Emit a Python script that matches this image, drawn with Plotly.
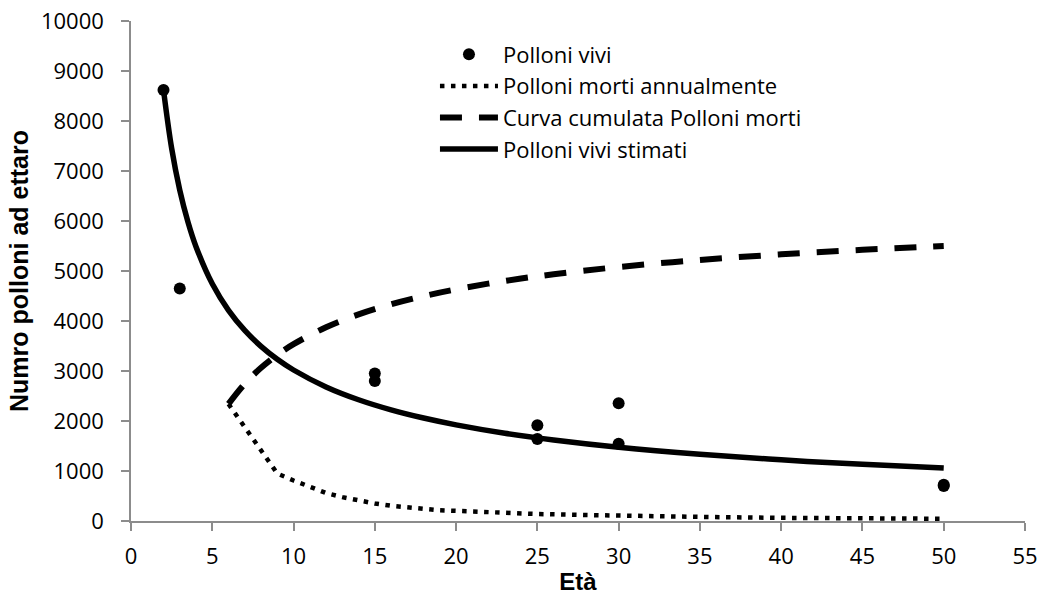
import plotly.graph_objects as go

# Observed live shoots (age, shoots per hectare)
live_age = [2, 3, 15, 15, 25, 25, 30, 30, 50, 50]
live_count = [8620, 4650, 2950, 2800, 1915, 1640, 2355, 1545, 725, 700]

# Annual dead shoots (dotted)
dead_age = [6, 7, 8, 9, 10, 11, 12, 13, 14, 15, 16, 17, 18, 19, 20, 22, 25, 28, 30, 35, 40, 45, 50]
dead_count = [2340, 1880, 1420, 950, 810, 690, 560, 478, 410, 350, 305, 285, 245, 215, 200,
              172, 140, 120, 105, 82, 63, 52, 45]

# Cumulative dead shoots (dashed)
cum_age = [6, 7, 8, 9, 10, 12, 14, 16, 18, 20, 23, 26, 30, 35, 40, 45, 50]
cum_count = [2343, 2745, 3063, 3322, 3536, 3875, 4131, 4333, 4497, 4633, 4801, 4935,
             5080, 5221, 5333, 5423, 5498]

# Estimated live shoots (solid)
est_age = [2, 2.5, 3, 3.5, 4, 5, 6, 7, 8, 9, 10, 12, 14, 16, 18, 20, 23, 26, 30, 35, 40, 45, 50]
est_count = [8620, 7454, 6618, 5986, 5487, 4744, 4213, 3811, 3493, 3234, 3020, 2681, 2425,
             2223, 2059, 1923, 1755, 1621, 1476, 1335, 1223, 1133, 1058]

x_ticks = list(range(0, 56, 5))
x_labels = [str(v) for v in x_ticks]
y_ticks = list(range(0, 10001, 1000))
y_labels = [str(v) for v in y_ticks]

fig = go.Figure()
fig.add_trace(go.Scatter(x=live_age, y=live_count, mode="markers", name="Polloni vivi",
                         marker=dict(color="black", size=12)))
fig.add_trace(go.Scatter(x=dead_age, y=dead_count, mode="lines", name="Polloni morti annualmente",
                         line=dict(color="black", width=4.5, dash="4.5px,6.5px")))
fig.add_trace(go.Scatter(x=cum_age, y=cum_count, mode="lines", name="Curva cumulata Polloni morti",
                         line=dict(color="black", width=6, dash="22px,17px", shape="spline")))
fig.add_trace(go.Scatter(x=est_age, y=est_count, mode="lines", name="Polloni vivi stimati",
                         line=dict(color="black", width=5.5, shape="spline")))

axis_common = dict(
    showgrid=False, zeroline=False, showline=True, linecolor="#8c8c8c", linewidth=1.5,
    ticks="outside", ticklen=8, tickcolor="#8c8c8c", tickwidth=1.5,
    tickfont=dict(family="Open Sans", size=22, color="black"),
    automargin=False,
)

fig.update_layout(
    width=1039, height=601, autosize=False,
    margin=dict(l=131, r=14, t=21, b=80, pad=0),
    paper_bgcolor="white", plot_bgcolor="white",
    xaxis=dict(range=[0, 55], tickvals=x_ticks, ticktext=x_labels, ticklabelstandoff=7,
               title=dict(text="Età", standoff=4,
                          font=dict(family="Liberation Sans", size=24, color="black", weight="bold")),
               **axis_common),
    yaxis=dict(range=[0, 10000], tickvals=y_ticks, ticktext=y_labels, ticklabelstandoff=13,
               title=dict(text="Numro polloni ad ettaro", standoff=5,
                          font=dict(family="Liberation Sans", size=25, color="black", weight="bold")),
               **axis_common),
    legend=dict(x=0.34, y=0.975, xanchor="left", yanchor="top", itemwidth=58,
                bgcolor="rgba(0,0,0,0)", borderwidth=0, tracegroupgap=0,
                font=dict(family="Open Sans", size=22, color="black")),
    showlegend=True,
)

fig.write_html("out.html")
